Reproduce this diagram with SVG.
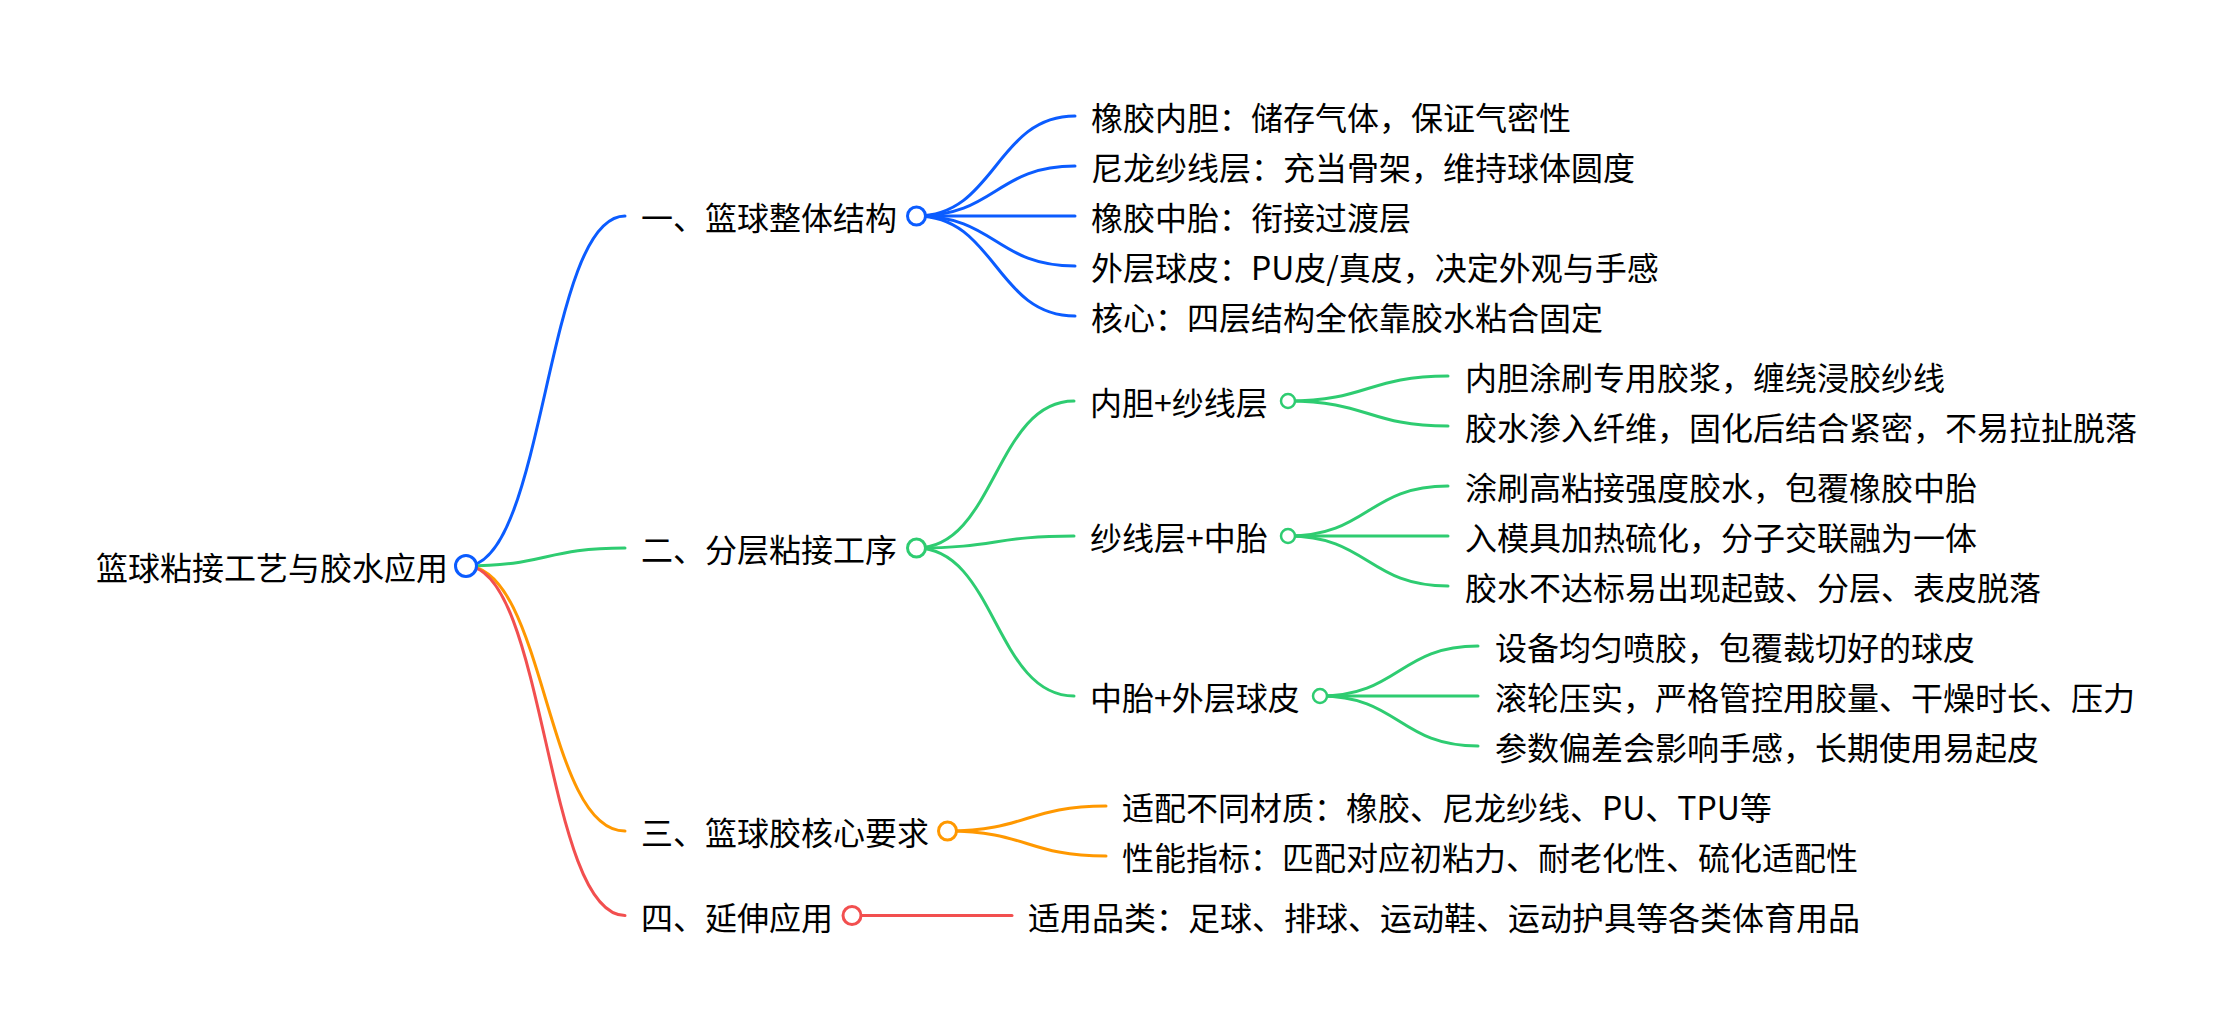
<svg xmlns="http://www.w3.org/2000/svg" width="2234" height="1032" viewBox="0 0 2234 1032">
<style>
text{font-family:"Noto Sans CJK SC","Noto Sans",sans-serif;font-size:32px;fill:#000}
.c{fill:#fff;stroke-width:3}
.l{fill:none;stroke-width:3;stroke-linecap:round}
.b{stroke:#0b5cff}.g{stroke:#2ecc71}.o{stroke:#ff9800}.r{stroke:#f24f4f}
</style>
<rect width="2234" height="1032" fill="#fff"/>
<g id="connectors">
<path class="l b" d="M466 566C545.5 566 545.5 216 625 216"/>
<path class="l g" d="M466 566C545.5 566 545.5 548 625 548"/>
<path class="l o" d="M466 566C545.5 566 545.5 831 625 831"/>
<path class="l r" d="M466 566C545.5 566 545.5 915.5 625 915.5"/>
<path class="l b" d="M916.5 216C995.75 216 995.75 116 1075 116"/>
<path class="l b" d="M916.5 216C995.75 216 995.75 166 1075 166"/>
<path class="l b" d="M916.5 216L1075 216"/>
<path class="l b" d="M916.5 216C995.75 216 995.75 266 1075 266"/>
<path class="l b" d="M916.5 216C995.75 216 995.75 316 1075 316"/>
<path class="l g" d="M916.5 548C995.25 548 995.25 401 1074 401"/>
<path class="l g" d="M916.5 548C995.25 548 995.25 536 1074 536"/>
<path class="l g" d="M916.5 548C995.25 548 995.25 696 1074 696"/>
<path class="l g" d="M1288 401C1368 401 1368 376 1448 376"/>
<path class="l g" d="M1288 401C1368 401 1368 426 1448 426"/>
<path class="l g" d="M1288 536C1368 536 1368 486 1448 486"/>
<path class="l g" d="M1288 536L1448 536"/>
<path class="l g" d="M1288 536C1368 536 1368 586 1448 586"/>
<path class="l g" d="M1320 696C1399 696 1399 646 1478 646"/>
<path class="l g" d="M1320 696L1478 696"/>
<path class="l g" d="M1320 696C1399 696 1399 746 1478 746"/>
<path class="l o" d="M947.5 831C1026.75 831 1026.75 806 1106 806"/>
<path class="l o" d="M947.5 831C1026.75 831 1026.75 856 1106 856"/>
<path class="l r" d="M852 915.5L1012 915.5"/>
</g>
<g id="root"><text x="96" y="580">篮球粘接工艺与胶水应用</text><circle class="c b" cx="466" cy="566" r="10.5"/></g>
<g id="n1"><text x="641" y="230">一、篮球整体结构</text><circle class="c b" cx="916.5" cy="216" r="9"/></g>
<g id="n1-1"><text x="1091" y="130">橡胶内胆：储存气体，保证气密性</text></g>
<g id="n1-2"><text x="1091" y="180">尼龙纱线层：充当骨架，维持球体圆度</text></g>
<g id="n1-3"><text x="1091" y="230">橡胶中胎：衔接过渡层</text></g>
<g id="n1-4"><text x="1091" y="280">外层球皮：PU皮/真皮，决定外观与手感</text></g>
<g id="n1-5"><text x="1091" y="330">核心：四层结构全依靠胶水粘合固定</text></g>
<g id="n2"><text x="641" y="562">二、分层粘接工序</text><circle class="c g" cx="916.5" cy="548" r="9"/></g>
<g id="n2-1"><text x="1090" y="415">内胆+纱线层</text><circle class="c g" cx="1288" cy="401" r="7" style="stroke-width:2.5"/></g>
<g id="n2-1-1"><text x="1465" y="390">内胆涂刷专用胶浆，缠绕浸胶纱线</text></g>
<g id="n2-1-2"><text x="1465" y="440">胶水渗入纤维，固化后结合紧密，不易拉扯脱落</text></g>
<g id="n2-2"><text x="1090" y="550">纱线层+中胎</text><circle class="c g" cx="1288" cy="536" r="7" style="stroke-width:2.5"/></g>
<g id="n2-2-1"><text x="1465" y="500">涂刷高粘接强度胶水，包覆橡胶中胎</text></g>
<g id="n2-2-2"><text x="1465" y="550">入模具加热硫化，分子交联融为一体</text></g>
<g id="n2-2-3"><text x="1465" y="600">胶水不达标易出现起鼓、分层、表皮脱落</text></g>
<g id="n2-3"><text x="1090" y="710">中胎+外层球皮</text><circle class="c g" cx="1320" cy="696" r="7" style="stroke-width:2.5"/></g>
<g id="n2-3-1"><text x="1495" y="660">设备均匀喷胶，包覆裁切好的球皮</text></g>
<g id="n2-3-2"><text x="1495" y="710">滚轮压实，严格管控用胶量、干燥时长、压力</text></g>
<g id="n2-3-3"><text x="1495" y="760">参数偏差会影响手感，长期使用易起皮</text></g>
<g id="n3"><text x="641" y="845">三、篮球胶核心要求</text><circle class="c o" cx="947.5" cy="831" r="9"/></g>
<g id="n3-1"><text x="1122" y="820">适配不同材质：橡胶、尼龙纱线、PU、TPU等</text></g>
<g id="n3-2"><text x="1122" y="870">性能指标：匹配对应初粘力、耐老化性、硫化适配性</text></g>
<g id="n4"><text x="641" y="929.5">四、延伸应用</text><circle class="c r" cx="852" cy="915.5" r="9"/></g>
<g id="n4-1"><text x="1028" y="929.5">适用品类：足球、排球、运动鞋、运动护具等各类体育用品</text></g>
</svg>
